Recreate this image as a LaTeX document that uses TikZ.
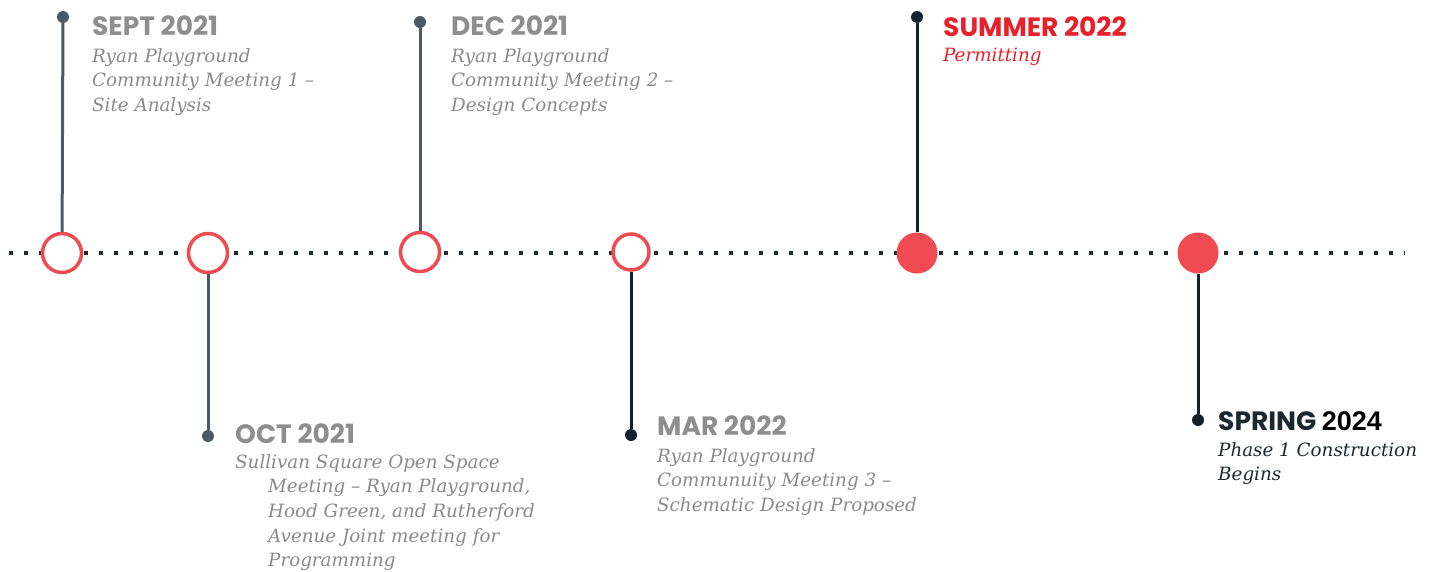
\documentclass[tikz,border=0pt]{standalone}
\usepackage{fontspec}
\newfontfamily\headfont{Poppins}
\newfontfamily\bodyfont{DejaVu Serif}
\newfontfamily\numfont{Liberation Sans}
\definecolor{tred}{HTML}{F04A52}
\definecolor{slate}{HTML}{4A5967}
\definecolor{navy}{HTML}{13212F}
\definecolor{headgray}{HTML}{8E8E8E}
\definecolor{bodygray}{HTML}{8A8A8A}
\definecolor{sumred}{HTML}{E8202A}
\definecolor{dotcol}{HTML}{1E2A33}
\definecolor{darkhead}{HTML}{1C2830}
\tikzset{
  ring/.style={circle,draw=tred,line width=3.5pt,fill=white,minimum size=39pt,inner sep=0pt},
  fullring/.style={circle,fill=tred,minimum size=41pt,inner sep=0pt},
  pinslate/.style={circle,fill=slate,minimum size=12pt,inner sep=0pt},
  pinnavy/.style={circle,fill=navy,minimum size=12pt,inner sep=0pt},
  stemslate/.style={draw=slate,line width=3pt},
  stemnavy/.style={draw=navy,line width=3pt},
  dotline/.style={draw=dotcol,line width=3.5pt,dash pattern=on 3.5pt off 11.5pt},
  heading/.style={anchor=base west,inner sep=0pt,font=\headfont\bfseries\fontsize{26.5}{30}\selectfont,text=headgray},
  body/.style={anchor=north west,inner sep=0pt,align=left,font=\bodyfont\itshape\fontsize{18.3}{24.7}\selectfont,text=bodygray},
}
\begin{document}
\begin{tikzpicture}[x=1pt,y=-1pt]
\useasboundingbox (0,0) rectangle (1429,571);
\coordinate (L) at (9,253);
\coordinate (R) at (1405,253);
\draw[dotline] (L) -- (R);
% circles
\node[ring] (c1) at (62,253) {};
\node[ring] (c2) at (208,253) {};
\node[ring] (c3) at (420,252) {};
\node[ring,minimum size=36pt] (c4) at (631,252) {};
\node[fullring] (c5) at (917,253) {};
\node[fullring] (c6) at (1198,253) {};
% pins
\node[pinslate] (p1) at (63,17) {};
\node[pinslate] (p2) at (208,436) {};
\node[pinslate] (p3) at (420,22) {};
\node[pinnavy] (p4) at (631,435) {};
\node[pinnavy] (p5) at (917,17) {};
\node[pinnavy] (p6) at (1198,420) {};
\draw[stemslate] (p1) -- (c1);
\draw[stemslate] (p2) -- (c2);
\draw[stemslate] (p3) -- (c3);
\draw[stemnavy] (p4) -- (c4);
\draw[stemnavy] (p5) -- (c5);
\draw[stemnavy] (p6) -- (c6);
% texts
\node[heading] (h1) at (92,35) {SEPT 2021};
\node[body] (b1) at (92,48) {Ryan Playground\\Community Meeting 1 –\\Site Analysis};
\node[heading] (h2) at (451,35) {DEC 2021};
\node[body] (b2) at (451,48) {Ryan Playground\\Community Meeting 2 –\\Design Concepts};
\node[heading,text=sumred] (h3) at (943,36) {SUMMER 2022};
\node[body,text=sumred] (b3) at (943,48) {Permitting};
\node[heading] (h4) at (235,443) {OCT 2021};
\node[body] (b4) at (235,454) {Sullivan Square Open Space\\\hspace*{33pt}Meeting – Ryan Playground,\\\hspace*{33pt}Hood Green, and Rutherford\\\hspace*{33pt}Avenue Joint meeting for\\\hspace*{33pt}Programming};
\node[heading] (h5) at (657,435) {MAR 2022};
\node[body] (b5) at (657,448) {Ryan Playground\\Communuity Meeting 3 –\\Schematic Design Proposed};
\node[heading,text=darkhead] (h6) at (1218,430) {SPRING {\numfont\fontsize{27}{30}\selectfont\color{black}2024}};
\node[body,text=darkhead] (b6) at (1218,442) {Phase 1 Construction\\Begins};
\end{tikzpicture}
\end{document}
